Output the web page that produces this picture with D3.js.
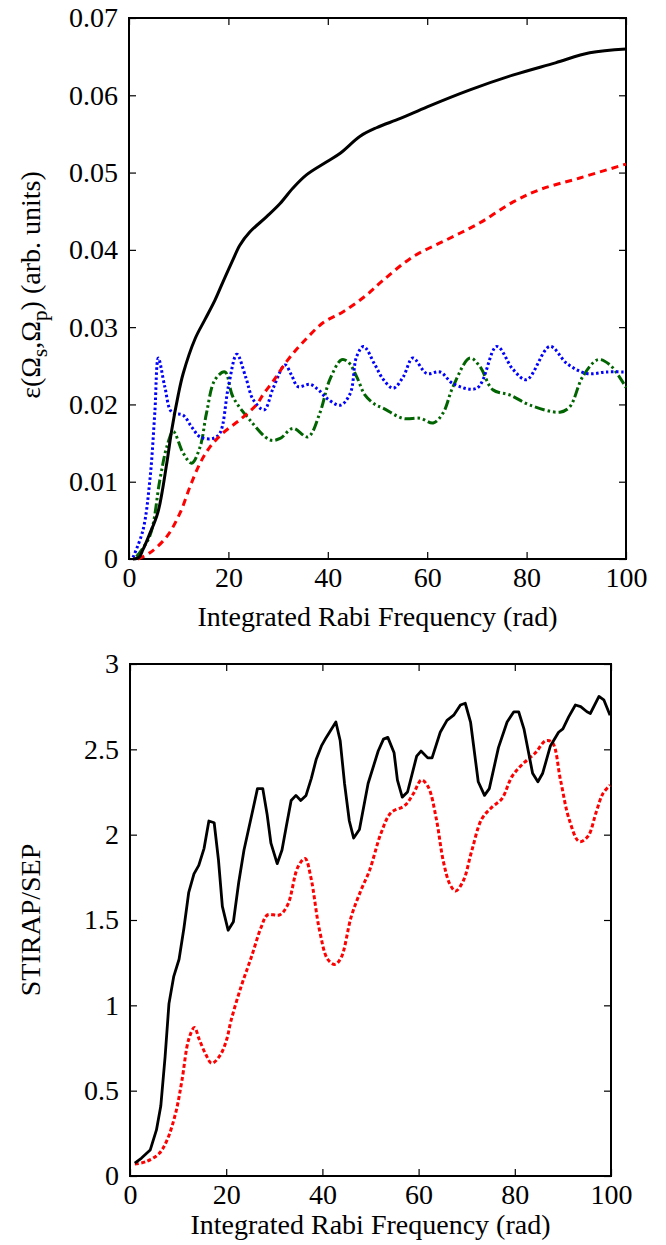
<!DOCTYPE html>
<html>
<head>
<meta charset="utf-8">
<script src="https://cdn.jsdelivr.net/npm/d3@7"></script>
<style>
  body { margin: 0; background: #fff; }
  svg text { font-family: "Liberation Serif", "DejaVu Serif", serif; fill: #000; }
</style>
</head>
<body>
<div id="chart"></div>
<script>
// ---- top panel data ----
const xTicks = [0, 20, 40, 60, 80, 100];
const topYTicks = [0, 0.01, 0.02, 0.03, 0.04, 0.05, 0.06, 0.07];
const botYTicks = [0, 0.5, 1, 1.5, 2, 2.5, 3];

const blackX = [0.8, 2, 2.8, 4, 5.8, 7.6, 8.6, 9.9, 10.9, 13.3, 15.3, 17.3, 19, 20.9, 22.3, 24.3, 27.7, 30.4, 33, 35.7, 39.8, 42.5, 46.5, 49.8, 54.6, 60, 68.6, 77.2, 85.8, 92.7, 100];
const blackY = [0, 0.0002, 0.0012, 0.003, 0.006, 0.0124, 0.0167, 0.0212, 0.024, 0.0285, 0.031, 0.0335, 0.036, 0.0387, 0.0406, 0.0423, 0.0443, 0.046, 0.048, 0.0497, 0.0514, 0.0525, 0.0547, 0.0558, 0.057, 0.0585, 0.0607, 0.0626, 0.0642, 0.0655, 0.066];

const redX = [1.8, 4.2, 7.6, 10.3, 12.3, 14.3, 16.3, 18.9, 22.3, 25.7, 27, 29, 32, 35.1, 39.1, 43.1, 47.5, 51.2, 57.1, 63.9, 70.6, 77.3, 82.7, 90.7, 100];
const redY = [0, 0.0008, 0.0029, 0.006, 0.0094, 0.0124, 0.0145, 0.0163, 0.018, 0.02, 0.0213, 0.023, 0.0258, 0.0281, 0.0306, 0.032, 0.034, 0.0361, 0.0391, 0.0413, 0.0435, 0.0462, 0.0478, 0.0493, 0.0511];

const blueX = [0.8, 2.8, 4.2, 5.2, 5.9, 7.2, 8.6, 10.9, 12.6, 14.3, 16.9, 18.3, 20, 21.7, 23.5, 25, 27.2, 29, 31.4, 32.7, 34, 36.4, 38.1, 39.8, 42.5, 44.5, 45.8, 47.2, 49.5, 51.2, 53.2, 55.2, 57.1, 59.9, 62.6, 65.2, 70, 74, 77.3, 80, 84.7, 88.1, 92.1, 96.1, 100];
const blueY = [0.0002, 0.0037, 0.0102, 0.019, 0.026, 0.0223, 0.019, 0.0186, 0.0171, 0.0158, 0.0156, 0.0163, 0.0223, 0.0265, 0.0235, 0.0206, 0.0193, 0.0221, 0.0251, 0.0238, 0.0223, 0.0226, 0.0219, 0.0208, 0.0199, 0.0214, 0.0262, 0.0275, 0.0251, 0.0232, 0.0221, 0.0236, 0.026, 0.024, 0.0242, 0.0227, 0.0221, 0.0275, 0.0245, 0.0232, 0.0275, 0.0253, 0.024, 0.0242, 0.0242];

const greenX = [1.5, 4.2, 6.2, 7.6, 8.9, 10.9, 12.6, 14.3, 15.6, 17.3, 19.3, 20.9, 24.3, 28.4, 30.4, 33, 36, 38.4, 40.4, 42.8, 44.1, 45.8, 47.5, 49.5, 51.2, 55.1, 58.6, 61.2, 63.2, 65.2, 68.6, 70.6, 73.2, 76.7, 80.7, 86.7, 88.7, 91.3, 94.4, 96.8, 100];
const greenY = [0.0003, 0.003, 0.0102, 0.0145, 0.0165, 0.0137, 0.0124, 0.0145, 0.0189, 0.0232, 0.0242, 0.021, 0.018, 0.0154, 0.0156, 0.0169, 0.0158, 0.0189, 0.0232, 0.0258, 0.0255, 0.0236, 0.0212, 0.02, 0.0195, 0.0182, 0.0182, 0.0176, 0.0189, 0.0223, 0.026, 0.0249, 0.0219, 0.0212, 0.0199, 0.019, 0.0197, 0.0236, 0.0258, 0.0251, 0.0222];

// ---- bottom panel data ----
const ratioX = [1, 2.4, 4.2, 5.5, 6.4, 7.3, 8.1, 9.1, 10.2, 11.2, 12.2, 13.3, 14.3, 15.4, 16.4, 17.5, 18.4, 19.2, 20.4, 21.5, 22.6, 23.7, 25.5, 26.5, 27.6, 28.5, 29.3, 30.6, 31.6, 32.5, 33.5, 34.5, 35.5, 36.6, 37.7, 38.7, 39.8, 40.8, 42.8, 43.7, 44.6, 45.6, 46.5, 47.7, 49.5, 51.6, 52.7, 53.6, 54.9, 55.6, 56.6, 57.7, 59.6, 60.5, 61.9, 62.8, 64.5, 65.9, 67.3, 68.7, 69.7, 70.8, 72.4, 73.7, 74.7, 76.6, 78.4, 79.8, 80.8, 81.9, 83.7, 84.8, 85.8, 87.4, 89.1, 90, 91.2, 92.6, 93.7, 95, 95.7, 97.5, 98.5, 99.8];
const ratioY = [0.076, 0.105, 0.152, 0.27, 0.41, 0.7, 1.01, 1.17, 1.27, 1.45, 1.66, 1.77, 1.82, 1.92, 2.08, 2.07, 1.85, 1.58, 1.44, 1.49, 1.72, 1.91, 2.14, 2.27, 2.27, 2.12, 1.95, 1.83, 1.91, 2.05, 2.2, 2.23, 2.2, 2.23, 2.33, 2.44, 2.52, 2.57, 2.66, 2.55, 2.3, 2.08, 1.98, 2.03, 2.3, 2.49, 2.56, 2.57, 2.48, 2.32, 2.22, 2.25, 2.46, 2.49, 2.45, 2.45, 2.6, 2.67, 2.7, 2.76, 2.77, 2.66, 2.31, 2.23, 2.27, 2.51, 2.66, 2.72, 2.72, 2.62, 2.36, 2.31, 2.36, 2.52, 2.6, 2.62, 2.69, 2.76, 2.75, 2.72, 2.71, 2.81, 2.79, 2.7];

const ratio2X = [1, 3.3, 6, 7.7, 9.5, 10.8, 12.2, 13.4, 14.4, 15.8, 17, 18.8, 20.1, 21, 23.1, 25.2, 27.3, 28.6, 31.1, 32.8, 34.9, 36.4, 37.6, 39.4, 41.1, 42.6, 43.9, 46, 48.1, 49.8, 52.2, 54.3, 57.1, 58.9, 60.6, 62, 63.7, 65.1, 66.5, 67.7, 69.3, 71, 73.1, 75.2, 77.3, 79.4, 81.5, 84.3, 86.4, 87.8, 89.5, 91.3, 93.4, 95.2, 96.9, 98.3, 99.8];
const ratio2Y = [0.07, 0.084, 0.13, 0.21, 0.37, 0.56, 0.8, 0.87, 0.8, 0.71, 0.66, 0.71, 0.8, 0.91, 1.11, 1.28, 1.46, 1.53, 1.53, 1.59, 1.81, 1.86, 1.75, 1.44, 1.27, 1.24, 1.28, 1.52, 1.68, 1.79, 2.01, 2.13, 2.17, 2.24, 2.32, 2.28, 2.09, 1.85, 1.71, 1.67, 1.73, 1.9, 2.09, 2.16, 2.21, 2.34, 2.41, 2.48, 2.55, 2.54, 2.32, 2.09, 1.96, 1.99, 2.13, 2.24, 2.29];

const FONT = "'Liberation Serif', 'DejaVu Serif', serif";

const svg = d3.select("#chart").append("svg")
    .attr("width", 666).attr("height", 1245)
    .attr("font-family", FONT);

const fmt = d3.format("~g");

function panel(xr, yr, yDomain, yTicks) {
    const x = d3.scaleLinear().domain([0, 100]).range(xr);
    const y = d3.scaleLinear().domain(yDomain).range(yr);
    const g = svg.append("g");

    g.append("g")
        .attr("transform", `translate(0, ${yr[0]})`)
        .call(d3.axisBottom(x).tickValues(xTicks).tickSizeInner(-7).tickSizeOuter(0).tickPadding(8).tickFormat(fmt));
    g.append("g")
        .attr("transform", `translate(0, ${yr[1]})`)
        .call(d3.axisTop(x).tickValues(xTicks).tickSizeInner(-7).tickSizeOuter(0).tickFormat(""));
    g.append("g")
        .attr("transform", `translate(${xr[0]}, 0)`)
        .call(d3.axisLeft(y).tickValues(yTicks).tickSizeInner(-7).tickSizeOuter(0).tickPadding(11).tickFormat(fmt));
    g.append("g")
        .attr("transform", `translate(${xr[1]}, 0)`)
        .call(d3.axisRight(y).tickValues(yTicks).tickSizeInner(-7).tickSizeOuter(0).tickFormat(""));

    g.selectAll(".domain").remove();
    g.selectAll(".tick line").attr("stroke-width", 1.2);
    g.selectAll("g").attr("font-family", FONT).attr("font-size", 28);
    g.selectAll(".tick text").attr("font-family", FONT).style("font-size", "28px");

    g.append("rect")
        .attr("x", xr[0]).attr("y", yr[1])
        .attr("width", xr[1] - xr[0]).attr("height", yr[0] - yr[1])
        .attr("fill", "none").attr("stroke", "#000").attr("stroke-width", 2);
    return { x, y, g };
}

function drawLine(p, xs, ys, color, dash, width, curve) {
    const pts = xs.map((v, i) => [v, ys[i]]);
    const line = d3.line().x(d => p.x(d[0])).y(d => p.y(d[1])).curve(curve);
    p.g.append("path")
        .datum(pts)
        .attr("d", line)
        .attr("fill", "none")
        .attr("stroke", color)
        .attr("stroke-width", width)
        .attr("stroke-dasharray", dash)
        .attr("stroke-linejoin", "round");
}

// top panel
const topPanel = panel([129, 626], [559, 18], [0, 0.07], topYTicks);
drawLine(topPanel, greenX, greenY, "#006400", "10,3,2.5,3,2.5,3", 3, d3.curveCatmullRom);
drawLine(topPanel, blueX, blueY, "#0000ff", "2.5,2.5", 3, d3.curveCatmullRom);
drawLine(topPanel, redX, redY, "#ff0000", "7,5", 3, d3.curveCatmullRom);
drawLine(topPanel, blackX, blackY, "#000", null, 3, d3.curveCatmullRom);

svg.append("text")
    .attr("x", 377.5).attr("y", 626)
    .attr("text-anchor", "middle")
    .attr("font-family", FONT)
    .style("font-size", "28px")
    .text("Integrated Rabi Frequency (rad)");

const yl = svg.append("text")
    .attr("transform", "translate(40, 285) rotate(-90)")
    .attr("text-anchor", "middle")
    .attr("font-family", FONT)
    .style("font-size", "28px");
yl.append("tspan").text("ε(Ω");
yl.append("tspan").attr("dy", 7).style("font-size", "21px").text("s");
yl.append("tspan").attr("dy", -7).text(",Ω");
yl.append("tspan").attr("dy", 7).style("font-size", "21px").text("p");
yl.append("tspan").attr("dy", -7).text(") (arb. units)");

// bottom panel
const botPanel = panel([130, 611], [1176, 664], [0, 3], botYTicks);
drawLine(botPanel, ratio2X, ratio2Y, "#ff0000", "4,2.5", 3, d3.curveCatmullRom);
drawLine(botPanel, ratioX, ratioY, "#000", null, 2.8, d3.curveLinear);

svg.append("text")
    .attr("x", 370.5).attr("y", 1234)
    .attr("text-anchor", "middle")
    .attr("font-family", FONT)
    .style("font-size", "28px")
    .text("Integrated Rabi Frequency (rad)");

svg.append("text")
    .attr("transform", "translate(40, 920) rotate(-90)")
    .attr("text-anchor", "middle")
    .attr("font-family", FONT)
    .style("font-size", "28px")
    .text("STIRAP/SEP");
</script>
</body>
</html>
